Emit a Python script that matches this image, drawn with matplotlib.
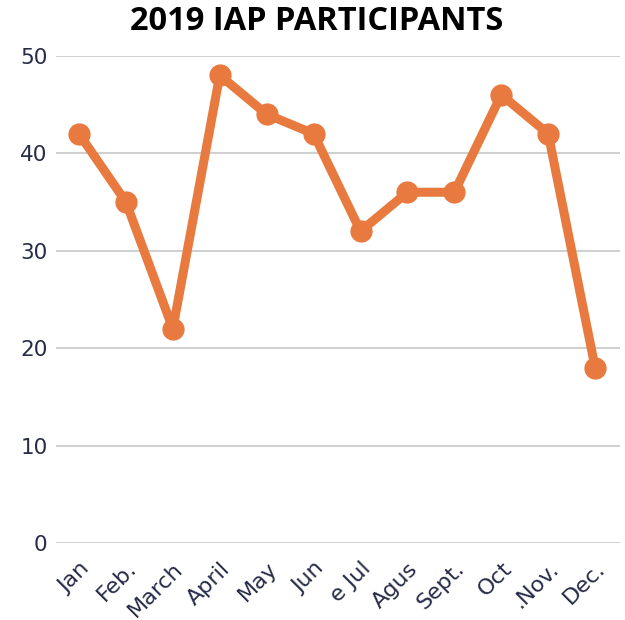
import matplotlib.pyplot as plt

# data
months = ['Jan', 'Feb.', 'March', 'April', 'May', 'Jun', 'e Jul', 'Agus', 'Sept.', 'Oct', '.Nov.', 'Dec.']
participants = [42, 35, 22, 48, 44, 42, 32, 36, 36, 46, 42, 18]

orange = '#E8793F'
navy = '#262B47'

fig = plt.figure(figsize=(6.25, 6.2), dpi=100)
ax = fig.add_axes([0.0896, 0.124, 0.9024, 0.786])

x = list(range(len(months)))
ax.plot(x, participants, color=orange, linewidth=6.5, marker='o', markersize=15,
        solid_capstyle='round', zorder=3)

ax.set_ylim(0, 50)
ax.set_xlim(-0.49, 11.53)
ax.set_yticks([0, 10, 20, 30, 40, 50])
ax.set_xticks(x)
ax.set_xticklabels(months, rotation=45, ha='right', rotation_mode='anchor')
for lab in ax.get_yticklabels():
    lab.set_fontsize(15.5)
for lab in ax.get_xticklabels():
    lab.set_fontsize(16)
ax.tick_params(axis='both', length=0, colors=navy, pad=6)
ax.tick_params(axis='x', pad=11)
ax.grid(axis='y', color='#cccccc', linewidth=1.3)
ax.set_axisbelow(True)
for s in ax.spines.values():
    s.set_visible(False)

fig.text(0.507, 0.966, '2019 IAP PARTICIPANTS', ha='center', va='center',
         fontsize=23.5, fontweight='bold', family='Open Sans', color='black')

fig.savefig('out.png', dpi=100)
